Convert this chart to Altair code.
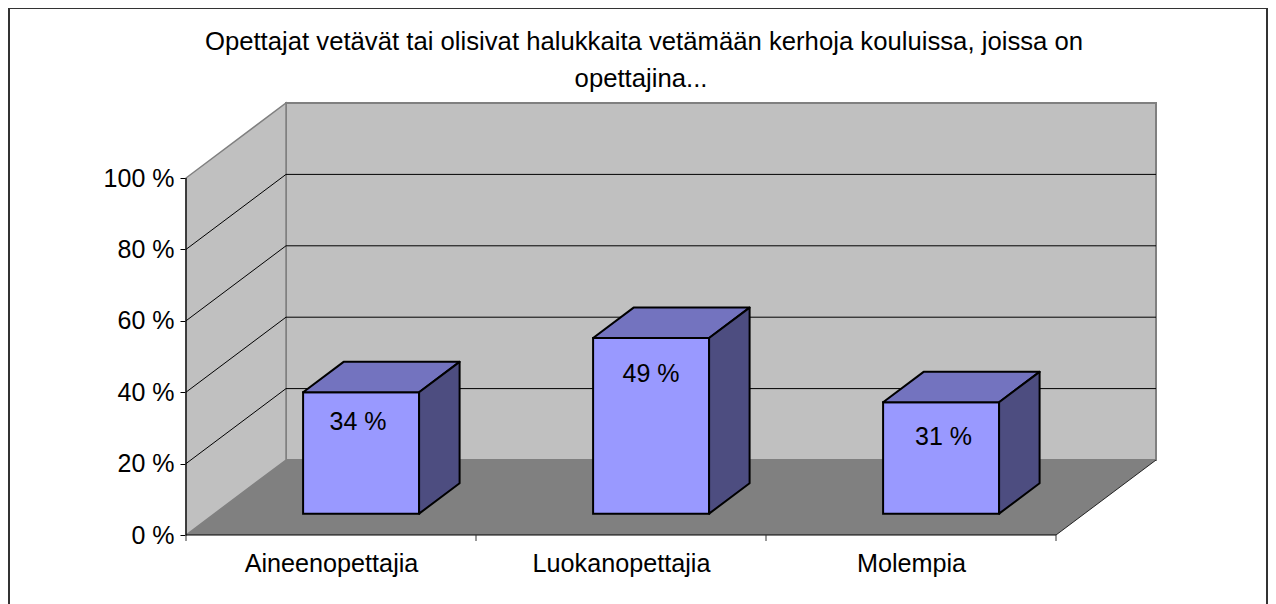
import altair as alt
import pandas as pd

categories = ["Aineenopettajia", "Luokanopettajia", "Molempia"]
values = [34.0, 49.2, 31.2]
tick_values = [0, 20, 40, 60, 80, 100]
title_lines = ["Opettajat vetävät tai olisivat halukkaita vetämään kerhoja kouluissa, joissa on", "opettajina..."]

# 3D projection: one unit of depth moves a point right and up on the scales
W, H = 970, 431
CAT_PX, VAL_PX = 290.0, 3.57
DX, DV = 100 / CAT_PX, 75 / VAL_PX
XMAX, YMAX = W / CAT_PX, H / VAL_PX
BAR_L, BAR_W, D0, D1 = 0.3055, 0.4, 0.285, 0.69
# label nudges in scale units, as Excel placed them by hand
LABEL_DX = [-3 / CAT_PX, 0.0, 2.5 / CAT_PX]
LABEL_DROP = [30 / VAL_PX, 36 / VAL_PX, 35 / VAL_PX]

n = len(categories)
wall = pd.DataFrame({"x": [DX], "x2": [DX + n], "y": [DV], "y2": [100 + DV]})
side_wall = pd.DataFrame({"x": [0, DX], "y": [0, DV], "y2": [100, 100 + DV]})
floor = pd.DataFrame({"y": [0, DV], "x": [0, DX], "x2": [n, n + DX]})
inner = tick_values[1:-1]
grid_back = pd.DataFrame({"x": [DX] * len(inner), "x2": [DX + n] * len(inner), "y": [v + DV for v in inner]})
grid_side = pd.DataFrame(
    [{"g": v, "x": 0, "y": v} for v in inner] + [{"g": v, "x": DX, "y": v + DV} for v in inner]
)
floor_edge = pd.DataFrame({"x": [n, n + DX], "y": [0, DV]})
axis_x = pd.DataFrame({"x": [0], "x2": [n], "y": [0]})
axis_y = pd.DataFrame({"x": [0], "y": [0], "y2": [100]})
ticks = pd.DataFrame({"x": list(range(n + 1))})

front, top, side, labels = [], [], [], []
for i, (c, v) in enumerate(zip(categories, values)):
    l = i + BAR_L
    r = l + BAR_W
    fy, by = D0 * DV, D1 * DV
    fx, bx = D0 * DX, D1 * DX
    front.append({"x": l + fx, "x2": r + fx, "y": fy, "y2": fy + v})
    top.append({"b": c, "y": fy + v, "x": l + fx, "x2": r + fx})
    top.append({"b": c, "y": by + v, "x": l + bx, "x2": r + bx})
    side.append({"b": c, "x": r + fx, "y": fy, "y2": fy + v})
    side.append({"b": c, "x": r + bx, "y": by, "y2": by + v})
    labels.append({"x": (l + r) / 2 + fx + LABEL_DX[i], "y": fy + v - LABEL_DROP[i], "t": f"{v:.0f} %"})
front, top, side, labels = map(pd.DataFrame, (front, top, side, labels))

FONT = "Liberation Sans"
X = alt.X(
    "x:Q",
    scale=alt.Scale(domain=[0, XMAX], nice=False, zero=False),
    axis=alt.Axis(
        values=[0.5, 1.5, 2.5],
        title=None,
        grid=False,
        domain=False,
        ticks=False,
        labelExpr="['Aineenopettajia','Luokanopettajia','Molempia'][floor(datum.value)]",
        labelFont=FONT,
        labelFontSize=25.2,
        labelColor="#000000",
        labelPadding=28,
        labelBaseline="middle",
    ),
)
Y = alt.Y(
    "y:Q",
    scale=alt.Scale(domain=[0, YMAX], nice=False, zero=False),
    axis=alt.Axis(
        values=tick_values,
        labelExpr="datum.value + ' %'",
        title=None,
        grid=False,
        domain=False,
        tickSize=6,
        tickColor="#000000",
        labelFont=FONT,
        labelFontSize=25,
        labelColor="#000000",
        labelPadding=6,
    ),
)

GREY, WALL = "#808080", "#C0C0C0"
layers = [
    alt.Chart(wall).mark_rect(fill=WALL, stroke=GREY, strokeWidth=2).encode(x=X, x2="x2:Q", y=Y, y2="y2:Q"),
    alt.Chart(side_wall).mark_area(orient="vertical", fill=WALL, stroke=GREY, strokeWidth=1.5).encode(x=X, y=Y, y2="y2:Q"),
    alt.Chart(floor).mark_area(orient="horizontal", fill=GREY).encode(y=Y, x=X, x2="x2:Q"),
    alt.Chart(grid_back).mark_rule(color="#000000", strokeWidth=1).encode(x=X, x2="x2:Q", y=Y),
    alt.Chart(grid_side).mark_line(color="#000000", strokeWidth=1).encode(x=X, y=Y, detail="g:N"),
    alt.Chart(floor_edge).mark_line(color="#222222", strokeWidth=1).encode(x=X, y=Y),
    alt.Chart(axis_y).mark_rule(color="#000000", strokeWidth=1.2).encode(x=X, y=Y, y2="y2:Q"),
    alt.Chart(axis_x).mark_rule(color="#000000", strokeWidth=1.2).encode(x=X, x2="x2:Q", y=Y),
    alt.Chart(ticks).mark_rule(color="#333333", strokeWidth=1).encode(x=X, y=alt.value(H), y2=alt.value(H + 6)),
    alt.Chart(front).mark_rect(fill="#9999FF", stroke="#000000", strokeWidth=2).encode(x=X, x2="x2:Q", y=Y, y2="y2:Q"),
    alt.Chart(top).mark_area(orient="horizontal", fill="#7373BF", stroke="#000000", strokeWidth=2, strokeJoin="round").encode(y=Y, x=X, x2="x2:Q", detail="b:N"),
    alt.Chart(side).mark_area(orient="vertical", fill="#4D4D80", stroke="#000000", strokeWidth=2, strokeJoin="round").encode(x=X, y=Y, y2="y2:Q", detail="b:N"),
    alt.Chart(labels).mark_text(font=FONT, fontSize=25, color="#000000", baseline="middle").encode(x=X, y=Y, text="t:N"),
    alt.Chart(axis_y).mark_text(font=FONT, fontSize=25.7, color="#000000", baseline="middle").encode(
        x=alt.value(458), y=alt.value(-62), text=alt.value(title_lines[0])
    ),
    alt.Chart(axis_y).mark_text(font=FONT, fontSize=25.7, color="#000000", baseline="middle").encode(
        x=alt.value(455), y=alt.value(-25), text=alt.value(title_lines[1])
    ),
    alt.Chart(axis_y).mark_rect(fill="transparent", stroke="#333333", strokeWidth=2).encode(
        x=alt.value(-177), x2=alt.value(1081), y=alt.value(-96), y2=alt.value(H + 200)
    ),
]

chart = (
    alt.layer(*layers)
    .properties(
        width=W,
        height=H,
        autosize="none",
        padding={"left": 178, "top": 96, "right": 112, "bottom": 69},
    )
    .configure_view(stroke=None)
)
chart.save("out.html", embed_options={"renderer": "svg", "actions": False})
